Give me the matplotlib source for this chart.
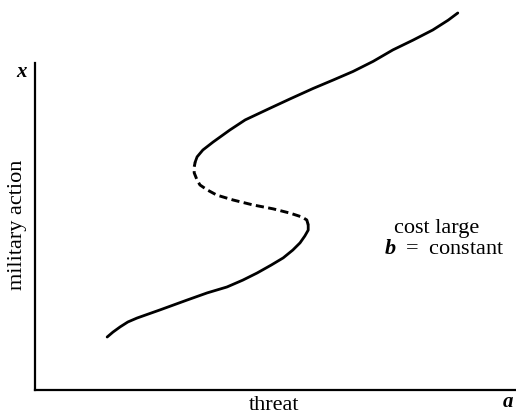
import matplotlib.pyplot as plt

# punts llegits de la figura (a = amenaça, x = acció militar)
# branca inferior (estable)
a_low = [15.0, 16.2, 17.7, 19.3, 21.2, 23.5, 26.0, 31.6, 35.8, 39.9, 43.2,
         46.2, 49.1, 51.6, 53.6, 55.1, 56.1, 56.8, 56.8]
x_low = [16.2, 17.7, 19.3, 20.8, 22.0, 23.2, 24.5, 27.5, 29.7, 31.5, 33.6,
         35.8, 38.2, 40.4, 42.8, 45.0, 47.1, 48.9, 50.5]

# branca del mig (inestable, discontinua)
a_mid = [56.8, 56.5, 55.5, 53.0, 49.5, 45.3, 41.2, 37.8, 35.8, 34.3, 33.7,
         33.1, 33.1, 33.3]
x_mid = [50.5, 52.0, 52.9, 54.1, 55.4, 56.6, 58.1, 59.6, 61.2, 62.7, 64.2,
         66.4, 68.2, 69.7]

# branca superior (estable)
a_up = [33.3, 33.7, 34.9, 37.0, 40.5, 43.7, 48.9, 53.0, 57.8, 62.0, 66.1, 70.3,
        74.4, 78.6, 82.7, 85.9, 87.9]
x_up = [69.7, 71.3, 73.4, 75.8, 79.5, 82.6, 86.2, 89.0, 92.2, 94.8, 97.4, 100.5,
        104.0, 107.0, 110.1, 113.1, 115.3]

plt.rcParams['font.family'] = 'Liberation Serif'
plt.rcParams['mathtext.fontset'] = 'custom'
plt.rcParams['mathtext.bf'] = 'Liberation Serif:italic:bold'
plt.rcParams['mathtext.rm'] = 'Liberation Serif'

W, H = 516, 416
fig = plt.figure(figsize=(W/100, H/100), dpi=100)
ax = fig.add_axes([35/W, 26/H, 1-35/W, 1-26/H])
ax.set_xlim(0, 100)
ax.set_ylim(0, 390/3.27)

ax.plot(a_low, x_low, color='black', lw=2.0, solid_capstyle='round', solid_joinstyle='round')
ax.plot(a_mid, x_mid, color='black', lw=2.1, linestyle=(0, (2.8, 1.5)))
ax.plot(a_up, x_up, color='black', lw=2.0, solid_capstyle='round', solid_joinstyle='round')

for s in ['top', 'right']:
  ax.spines[s].set_visible(False)
ax.spines['left'].set_bounds(0, 100)
ax.spines['left'].set_linewidth(1.6)
ax.spines['bottom'].set_linewidth(1.6)
ax.set_xticks([])
ax.set_yticks([])

fig.text(22/W, 1-72/H, 'x', fontsize=15, fontweight='bold', fontstyle='italic', ha='center', va='center')
fig.text(508/W, 1-402/H, 'a', fontsize=15, fontweight='bold', fontstyle='italic', ha='center', va='center')
fig.text(274/W, 1-405/H, 'threat', fontsize=16, ha='center', va='center')
fig.text(18/W, 1-225/H, 'military action', fontsize=16, ha='center', va='center', rotation=90)
fig.text(394/W, 1-228/H, 'cost large', fontsize=16, ha='left', va='center')
fig.text(384/W, 1-250/H, r'$\mathbf{b}\;=\;$constant', fontsize=16, ha='left', va='center')

fig.savefig('out.png', dpi=100)
